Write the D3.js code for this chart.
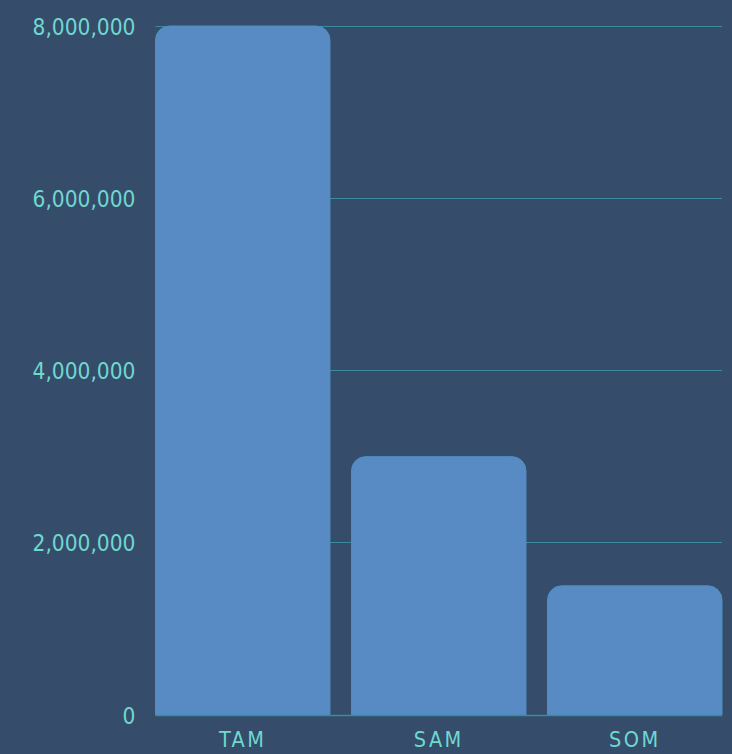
<!DOCTYPE html>
<html>
<head>
<meta charset="utf-8">
<script src="https://cdn.jsdelivr.net/npm/d3@7"></script>
<style>
  html, body { margin: 0; padding: 0; background: #354c6a; }
  svg { display: block; }
  .lbl { font-family: 'DejaVu Sans Condensed', 'DejaVu Sans', sans-serif; font-stretch: condensed; }
</style>
</head>
<body>
<svg id="chart" width="732" height="754"></svg>
<script>
// Market sizing: total, serviceable and obtainable market
const categories = ["TAM", "SAM", "SOM"];
const values = [8000000, 3000000, 1500000];
const yTicks = [0, 2000000, 4000000, 6000000, 8000000];

const W = 732, H = 754;
const margin = { top: 26, right: 10, bottom: 39, left: 155.5 };

const svg = d3.select("#chart");

const x = d3.scaleBand()
  .domain(categories)
  .range([margin.left, W - margin.right])
  .paddingInner(0.11)
  .paddingOuter(0);

const y = d3.scaleLinear()
  .domain([0, 8000000])
  .range([H - margin.bottom, margin.top]);

const textColor = "#6fd8cf";
const gridColor = "#3b8aa0";

// horizontal grid lines
svg.append("g")
  .selectAll("line")
  .data(yTicks.filter(d => d > 0))
  .join("line")
  .attr("x1", margin.left)
  .attr("x2", W - margin.right)
  .attr("y1", d => Math.floor(y(d)) + 0.5)
  .attr("y2", d => Math.floor(y(d)) + 0.5)
  .attr("stroke", gridColor)
  .attr("stroke-width", 1);

// y axis labels
const yAxis = svg.append("g")
  .attr("transform", `translate(${margin.left},0)`)
  .call(d3.axisLeft(y).tickValues(yTicks).tickFormat(d3.format(",")).tickSize(0).tickPadding(20));
yAxis.select(".domain").remove();
yAxis.selectAll("text")
  .attr("class", "lbl")
  .attr("fill", textColor)
  .style("font-size", "22.5px")
  .attr("dy", "0.36em");

// bars with rounded top corners
const r = 14;
function barPath(d, i) {
  const x0 = x(categories[i]), x1 = x0 + x.bandwidth();
  const y0 = y(0), y1 = y(d);
  const rr = Math.min(r, (y0 - y1) / 2);
  return `M${x0},${y0}V${y1 + rr}A${rr},${rr} 0 0 1 ${x0 + rr},${y1}H${x1 - rr}A${rr},${rr} 0 0 1 ${x1},${y1 + rr}V${y0}Z`;
}
svg.append("g")
  .selectAll("path")
  .data(values)
  .join("path")
  .attr("d", barPath)
  .attr("fill", "#588bc3")
  .attr("stroke", "#4f8fbf")
  .attr("stroke-width", 1);

// x axis baseline and labels
const xAxis = svg.append("g")
  .attr("transform", `translate(0,${y(0)})`)
  .call(d3.axisBottom(x).tickSize(0).tickPadding(17));
xAxis.select(".domain")
  .attr("stroke", gridColor)
  .attr("stroke-width", 1.5)
  .attr("d", `M${margin.left},0.5H${W - margin.right}`);
xAxis.selectAll("text")
  .attr("class", "lbl")
  .attr("fill", textColor)
  .style("font-size", "21.5px")
  .style("letter-spacing", "2.5px");
</script>
</body>
</html>
